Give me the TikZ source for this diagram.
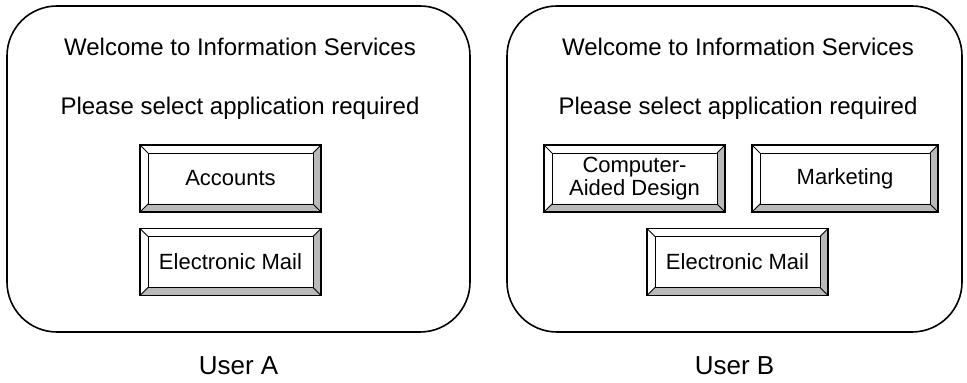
\documentclass[tikz,border=0pt]{standalone}
\usepackage{fontspec}
\setmainfont{Liberation Sans}
\usepackage{tikz}
\usetikzlibrary{positioning}

\newcommand{\bv}{4pt}

\begin{document}
\begin{tikzpicture}[
    x=0.5pt, y=-0.5pt,
    node distance=11.5pt,
    panel/.style={rectangle, draw, line width=0.8pt, rounded corners=25pt, minimum height=163pt},
    headline/.style={font=\fontsize{12}{14}\selectfont, inner sep=0pt},
    userlabel/.style={font=\fontsize{13}{15}\selectfont, inner sep=0pt},
    appbutton/.style={rectangle, draw, line width=0.6pt, minimum width=90.5pt, minimum height=33.5pt,
        align=center, font=\fontsize{11}{11.5}\selectfont,
        path picture={
            \fill[gray!55] (path picture bounding box.south west) -- (path picture bounding box.south east)
                -- (path picture bounding box.north east) -- ([shift={(-\bv,-\bv)}]path picture bounding box.north east)
                -- ([shift={(-\bv,\bv)}]path picture bounding box.south east)
                -- ([shift={(\bv,\bv)}]path picture bounding box.south west) -- cycle;
            \draw[line width=0.4pt] ([shift={(\bv,\bv)}]path picture bounding box.south west)
                rectangle ([shift={(-\bv,-\bv)}]path picture bounding box.north east);
            \draw[line width=0.4pt] (path picture bounding box.south west) -- ++(\bv,\bv)
                (path picture bounding box.north west) -- ++(\bv,-\bv)
                (path picture bounding box.north east) -- ++(-\bv,-\bv)
                (path picture bounding box.south east) -- ++(-\bv,\bv);
        }},
]
\useasboundingbox (0,0) rectangle (967,383);

% user A
\node[panel, minimum width=231.5pt] (panelA) at (238.5,169) {};
\node[headline] (welcomeA) at (240,47) {Welcome to Information Services};
\node[headline] (selectA) at (240,108) {Please select application required};
\node[appbutton] (accounts) at (230.5,178.5) {Accounts};
\node[appbutton] (mailA) at (230.5,262) {Electronic Mail};
\node[userlabel, below=of panelA] (userA) {User A};

% user B
\node[panel, minimum width=227.5pt] (panelB) at (734.5,169) {};
\node[headline] (welcomeB) at (738,47) {Welcome to Information Services};
\node[headline] (selectB) at (738,108) {Please select application required};
\node[appbutton] (cad) at (634.5,178.5) {Computer-\\Aided Design};
\node[appbutton, minimum width=93pt] (marketing) at (845,178.5) {Marketing};
\node[appbutton] (mailB) at (737.5,262) {Electronic Mail};
\node[userlabel, below=of panelB] (userB) {User B};

\end{tikzpicture}
\end{document}
